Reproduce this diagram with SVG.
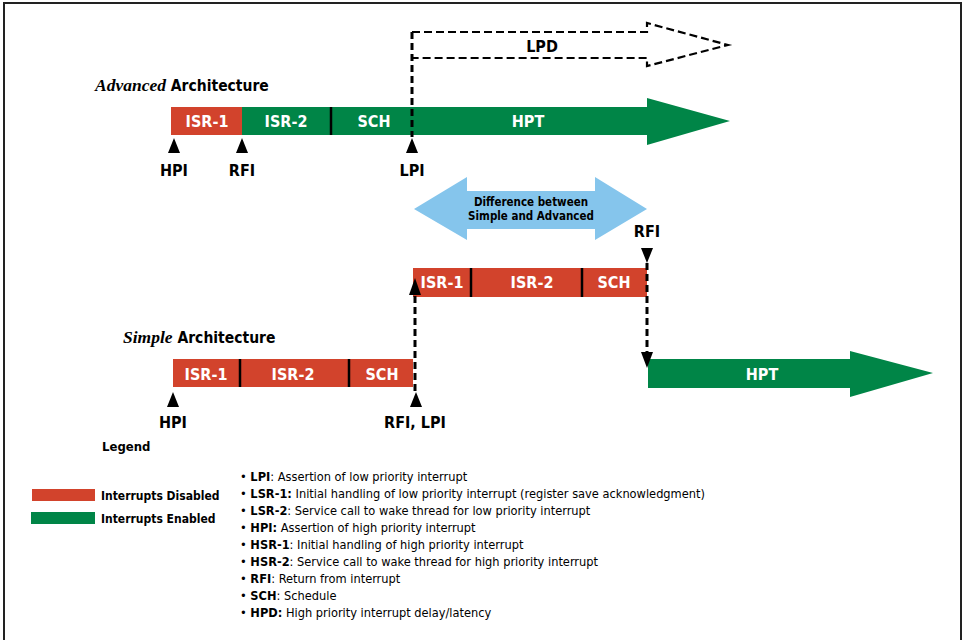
<svg xmlns="http://www.w3.org/2000/svg" width="963" height="640" viewBox="0 0 963 640">
<style>
.red{fill:#D2432C}
.grn{fill:#008547}
.blu{fill:#85C5EC}
.bl{font-family:"DejaVu Sans Condensed","Liberation Sans",sans-serif;font-weight:bold;font-size:16px;fill:#fff;text-anchor:middle}
.lb{font-family:"DejaVu Sans Condensed","Liberation Sans",sans-serif;font-weight:bold;font-size:16px;fill:#000;text-anchor:middle}
.hd{font-family:"DejaVu Sans Condensed","Liberation Sans",sans-serif;font-weight:bold;font-size:15.5px;fill:#000}
.it{font-family:"Liberation Serif",serif;font-style:italic;font-size:17.5px}
.sm{font-family:"DejaVu Sans Condensed","Liberation Sans",sans-serif;font-size:12.7px;fill:#000}
.smb{font-weight:bold}
.dv{stroke:#000;stroke-width:2.5}
.dash{fill:none;stroke:#000;stroke-width:3;stroke-dasharray:7 4}
.tri{fill:#000}
</style>
<rect x="4" y="3" width="957" height="640" fill="none" stroke="#222" stroke-width="2"/>

<g id="advanced-title"><text class="hd" x="95" y="91"><tspan class="it">Advanced</tspan> Architecture</text></g>

<g id="adv-isr1"><rect class="red" x="171" y="107" width="71" height="28"/><text class="bl" x="207" y="127">ISR-1</text></g>
<g id="adv-green">
<polygon class="grn" points="242,107 647,107 647,98 730,121 647,145 647,135 242,135"/>
<line class="dv" x1="331" y1="107" x2="331" y2="135"/>
<text class="bl" x="286" y="127">ISR-2</text>
<text class="bl" x="374" y="127">SCH</text>
<text class="bl" x="528" y="127">HPT</text>
</g>

<g id="lpd"><path d="M412,32 H647 V23 L728,45 L647,66 V58 H412" fill="none" stroke="#000" stroke-width="2.2" stroke-dasharray="8 4"/><text class="lb" x="542" y="52">LPD</text></g>

<g id="adv-hpi"><polygon class="tri" points="174,138 168,153 180,153"/><text class="lb" x="174" y="176">HPI</text></g>
<g id="adv-rfi"><polygon class="tri" points="242,138 236,153 248,153"/><text class="lb" x="242" y="176">RFI</text></g>
<g id="adv-lpi"><polygon class="tri" points="412,138 406,153 418,153"/><text class="lb" x="412" y="176">LPI</text></g>

<g id="difference">
<polygon class="blu" points="414,209 467,177 467,191 595,191 595,177 647,209 595,240 595,229 467,229 467,240"/>
<text class="lb" style="font-size:11.5px" x="531" y="206">Difference between</text>
<text class="lb" style="font-size:11.5px" x="531" y="220">Simple and Advanced</text>
</g>

<g id="rfi-top"><text class="lb" x="647" y="237">RFI</text><polygon class="tri" points="641,248 653,248 647,263"/></g>

<g id="mid-red">
<rect class="red" x="413" y="268" width="234" height="29"/>
<line class="dv" x1="471" y1="268" x2="471" y2="297"/>
<line class="dv" x1="582" y1="268" x2="582" y2="297"/>
<text class="bl" x="442" y="288">ISR-1</text>
<text class="bl" x="532" y="288">ISR-2</text>
<text class="bl" x="614" y="288">SCH</text>
</g>

<g id="simple-title"><text class="hd" x="123" y="343"><tspan class="it">Simple</tspan> Architecture</text></g>

<g id="simple-red">
<rect class="red" x="173" y="359" width="240" height="28"/>
<line class="dv" x1="240" y1="359" x2="240" y2="387"/>
<line class="dv" x1="349" y1="359" x2="349" y2="387"/>
<text class="bl" x="206" y="380">ISR-1</text>
<text class="bl" x="293" y="380">ISR-2</text>
<text class="bl" x="382" y="380">SCH</text>
</g>

<g id="simple-hpi"><polygon class="tri" points="173,392 167,407 179,407"/><text class="lb" x="173" y="428">HPI</text></g>
<g id="simple-rfi-lpi"><polygon class="tri" points="416,392 410,407 422,407"/><text class="lb" x="415" y="428">RFI, LPI</text></g>

<g id="low-hpt">
<polygon class="grn" points="648,359 850,359 850,351 933,373 850,397 850,388 648,388"/>
<text class="bl" x="762" y="380">HPT</text>
</g>

<g id="connectors">
<line class="dash" x1="412" y1="32" x2="412" y2="137"/>
<line class="dash" x1="647" y1="263" x2="647" y2="352"/>
<polygon class="tri" points="641,352 653,352 647,368"/>
<line class="dash" x1="415" y1="391" x2="415" y2="293"/>
<polygon class="tri" points="409,295 421,295 415,278"/>
</g>

<g id="legend">
<text class="hd" style="font-size:13px" x="102" y="451">Legend</text>
<rect class="red" x="32" y="489" width="63" height="12"/>
<rect class="grn" x="31" y="512" width="64" height="12"/>
<text class="hd" style="font-size:12px" x="101" y="500">Interrupts Disabled</text>
<text class="hd" style="font-size:12px" x="101" y="523">Interrupts Enabled</text>
</g>

<g id="definitions" class="sm">
<text x="240" y="481">• <tspan class="smb">LPI</tspan>: Assertion of low priority interrupt</text>
<text x="240" y="498">• <tspan class="smb">LSR-1:</tspan> Initial handling of low priority interrupt (register save acknowledgment)</text>
<text x="240" y="515">• <tspan class="smb">LSR-2</tspan>: Service call to wake thread for low priority interrupt</text>
<text x="240" y="532">• <tspan class="smb">HPI:</tspan> Assertion of high priority interrupt</text>
<text x="240" y="549">• <tspan class="smb">HSR-1</tspan>: Initial handling of high priority interrupt</text>
<text x="240" y="566">• <tspan class="smb">HSR-2</tspan>: Service call to wake thread for high priority interrupt</text>
<text x="240" y="583">• <tspan class="smb">RFI</tspan>: Return from interrupt</text>
<text x="240" y="600">• <tspan class="smb">SCH</tspan>: Schedule</text>
<text x="240" y="617">• <tspan class="smb">HPD:</tspan> High priority interrupt delay/latency</text>
</g>
</svg>
